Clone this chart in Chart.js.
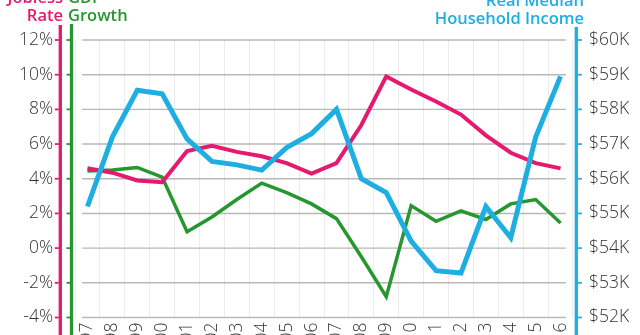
<!DOCTYPE html>
<html><head><meta charset="utf-8">
<script src="https://cdn.jsdelivr.net/npm/chart.js@4"></script>
<style>
html,body{margin:0;padding:0;background:#fff;overflow:hidden;width:640px;height:335px}
#wrap{position:relative;width:640px;height:335px;overflow:hidden}
canvas{position:absolute;left:0;top:0}
.t{position:absolute;font-family:"Open Sans",sans-serif;font-weight:600;font-size:16.5px;line-height:18px;white-space:nowrap}
</style></head><body>
<div id="wrap">
<canvas id="c" width="640" height="350"></canvas>
<div class="t" style="right:577px;top:-12.5px;text-align:right;color:#e5196e">Jobless<br>Rate</div>
<div class="t" style="left:68px;top:-12.5px;text-align:left;color:#26962e">GDP<br>Growth</div>
<div class="t" style="right:56px;top:-9px;text-align:right;color:#1eaee2">Real Median<br>Household Income</div>
</div>
<script>
const years = ['1997','1998','1999','2000','2001','2002','2003','2004','2005','2006','2007','2008','2009','2010','2011','2012','2013','2014','2015','2016'];
const joblessRate = [4.6,4.35,3.9,3.8,5.6,5.9,5.55,5.3,4.9,4.3,4.9,7.1,9.9,9.15,8.45,7.7,6.5,5.5,4.9,4.6];
const gdpGrowth = [4.45,4.5,4.65,4.1,0.95,1.8,2.8,3.75,3.2,2.55,1.7,-0.5,-2.8,2.45,1.55,2.15,1.65,2.55,2.8,1.45];
const medianIncomeK = [55.2,57.2,58.55,58.45,57.15,56.5,56.4,56.25,56.9,57.3,58.0,56.0,55.6,54.2,53.35,53.28,55.2,54.3,57.2,58.95];
const leftTicks = [-4,-2,0,2,4,6,8,10,12];
const rightTicks = [52,53,54,55,56,57,58,59,60];

const PINK='#e5196e', GREEN='#26962e', BLUE='#1eaee2', TXT='#333333';
const tickFont = {family:'"Open Sans", sans-serif', size:17.5, weight:300};

const deco = {
  id:'deco',
  beforeDatasetsDraw(c){
    const {ctx, chartArea:a, scales} = c;
    ctx.save();
    ctx.strokeStyle='#b8b8b8'; ctx.lineWidth=1.4;
    leftTicks.forEach(v=>{
      const yy = scales.y.getPixelForValue(v);
      ctx.beginPath(); ctx.moveTo(a.left+7,yy); ctx.lineTo(a.right-7,yy); ctx.stroke();
    });
    ctx.restore();
  },
  afterDraw(c){
    const {ctx, chartArea:a, scales} = c;
    ctx.save();
    const vline=(x,col,top)=>{ctx.strokeStyle=col;ctx.lineWidth=3.3;ctx.beginPath();ctx.moveTo(x,top);ctx.lineTo(x,c.height);ctx.stroke();};
    const pinkX=a.left-14.7, greenX=a.left-3.5, blueX=a.right+3.3;
    vline(pinkX,PINK,25); vline(greenX,GREEN,24); vline(blueX,BLUE,27);
    ctx.lineWidth=1.8;
    leftTicks.forEach(v=>{
      const yy=scales.y.getPixelForValue(v);
      ctx.strokeStyle=PINK; ctx.beginPath(); ctx.moveTo(pinkX-5.5,yy); ctx.lineTo(pinkX-1.5,yy); ctx.stroke();
      ctx.strokeStyle=GREEN; ctx.beginPath(); ctx.moveTo(greenX-5,yy); ctx.lineTo(greenX-1.5,yy); ctx.stroke();
    });
    rightTicks.forEach(v=>{
      const yy=scales.yR.getPixelForValue(v);
      ctx.strokeStyle=BLUE; ctx.beginPath(); ctx.moveTo(blueX+1.5,yy); ctx.lineTo(blueX+5.5,yy); ctx.stroke();
    });
    ctx.restore();
  }
};

new Chart(document.getElementById('c'), {
  type:'line',
  data:{labels:years, datasets:[
    {label:'Real Median Household Income', data:medianIncomeK, yAxisID:'yR', borderColor:BLUE, borderWidth:5, pointRadius:0, tension:0, borderJoinStyle:'miter'},
    {label:'Jobless Rate', data:joblessRate, yAxisID:'y', borderColor:PINK, borderWidth:4, pointRadius:0, tension:0},
    {label:'GDP Growth', data:gdpGrowth, yAxisID:'y2', borderColor:GREEN, borderWidth:3.5, pointRadius:0, tension:0}
  ]},
  options:{
    responsive:false, animation:false,
    layout:{padding:{top:40,left:0,right:0,bottom:0}},
    plugins:{legend:{display:false}, tooltip:{enabled:false}},
    scales:{
      x:{offset:true, grid:{offset:true, color:'#ececec', lineWidth:1, drawTicks:false}, border:{display:false},
         ticks:{autoSkip:false, minRotation:90, maxRotation:90, padding:5, color:TXT, font:tickFont},
         afterFit:s=>{s.height=18;}},
      y:{position:'left', min:-4, max:12, afterBuildTicks:s=>{s.ticks=leftTicks.map(v=>({value:v}));},
         ticks:{callback:v=>v+'%', padding:22, color:TXT, font:tickFont},
         grid:{display:false, drawTicks:false}, border:{display:false}, afterFit:s=>{s.width=75;}},
      y2:{display:false, min:-4, max:12},
      yR:{position:'right', min:52, max:60, afterBuildTicks:s=>{s.ticks=rightTicks.map(v=>({value:v}));},
         ticks:{callback:v=>'$'+v+'K', padding:16, color:TXT, font:tickFont},
         grid:{display:false, drawTicks:false}, border:{display:false}, afterFit:s=>{s.width=67;}}
    }
  },
  plugins:[deco]
});
</script>
</body></html>
